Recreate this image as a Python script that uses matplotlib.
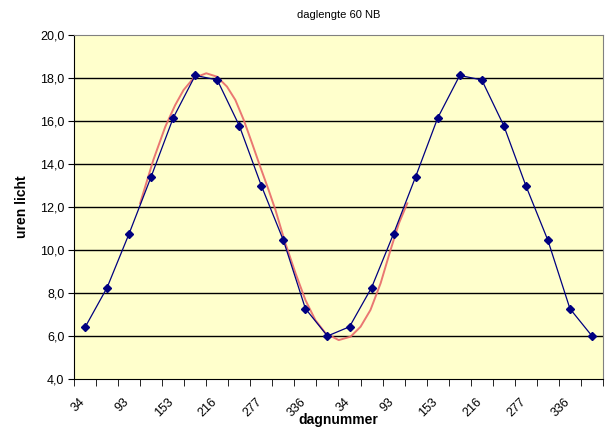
import matplotlib
matplotlib.use('Agg')
from matplotlib import pyplot as plt
from matplotlib.ticker import MultipleLocator, FuncFormatter
from matplotlib.transforms import ScaledTranslation

plt.rcParams['font.family'] = ['Liberation Sans', 'DejaVu Sans']

# daylight hours per category (two years shown)
hours = [6.4, 8.25, 10.76, 13.41, 16.14, 18.12, 17.91, 15.78, 12.99, 10.45, 7.27, 6.0,
         6.43, 8.25, 10.76, 13.41, 16.14, 18.12, 17.91, 15.78, 12.99, 10.45, 7.27, 6.0]
day_labels = ['34', '', '93', '', '153', '', '216', '', '277', '', '336', '',
              '34', '', '93', '', '153', '', '216', '', '277', '', '336', '']

# red hand-drawn curve (x in category units)
red_x = [2.50, 3.10, 3.64, 4.09, 4.47, 4.92, 5.50, 5.99, 6.44, 6.82, 7.20, 7.58, 7.95,
         8.33, 8.64, 9.09, 9.55, 10.00, 10.45, 10.91, 11.51, 12.05, 12.50, 12.95, 13.41,
         13.86, 14.24, 14.62]
red_y = [12.17, 14.19, 15.73, 16.74, 17.44, 17.99, 18.22, 18.06, 17.60, 16.98, 16.05, 14.96,
         13.87, 12.79, 11.86, 10.31, 8.92, 7.67, 6.74, 6.13, 5.81, 5.97, 6.43, 7.21, 8.45,
         10.00, 11.24, 12.17]

fig = plt.figure(figsize=(6.13, 4.32), dpi=100)
ax = fig.add_axes([74/613, 53/432, 529/613, 344/432])
ax.set_facecolor('#FFFFCC')

for v in range(6, 20, 2):
    ax.axhline(v, color='black', lw=1, zorder=1)

x = list(range(len(hours)))
ax.plot(x, hours, color='#000080', lw=0.9, marker='D', markersize=4, zorder=3)
ax.plot(red_x, red_y, color='#E86868', lw=1.4, alpha=0.9, zorder=2,
        solid_joinstyle='round')

ax.set_xlim(-0.5, len(hours) - 0.5)
ax.set_ylim(4, 20)
ax.yaxis.set_major_locator(MultipleLocator(2))
ax.yaxis.set_major_formatter(FuncFormatter(lambda v, p: ('%.1f' % v).replace('.', ',')))

ax.set_xticks(x)
ax.set_xticklabels(day_labels, rotation=45, ha='right', rotation_mode='anchor')
ax.set_xticks([i - 0.5 for i in range(len(hours) + 1)], minor=True)
ax.tick_params(axis='x', which='major', length=0, pad=12, labelsize=9)
ax.tick_params(axis='x', which='minor', length=5, color='black')
ax.tick_params(axis='y', length=4, labelsize=9, pad=3)
shift = ScaledTranslation(-6/100, 0, fig.dpi_scale_trans)
for lab in ax.get_xticklabels():
    lab.set_transform(lab.get_transform() + shift)

for s in ['top', 'right']:
    ax.spines[s].set_color('#808080')
for s in ['left', 'bottom']:
    ax.spines[s].set_color('black')

ax.set_title('daglengte 60 NB', fontsize=8, pad=12)
ax.set_ylabel('uren licht', fontsize=10, fontweight='bold', labelpad=8)
ax.set_xlabel('dagnummer', fontsize=10, fontweight='bold', labelpad=-4)

fig.savefig('out.png', dpi=100)
